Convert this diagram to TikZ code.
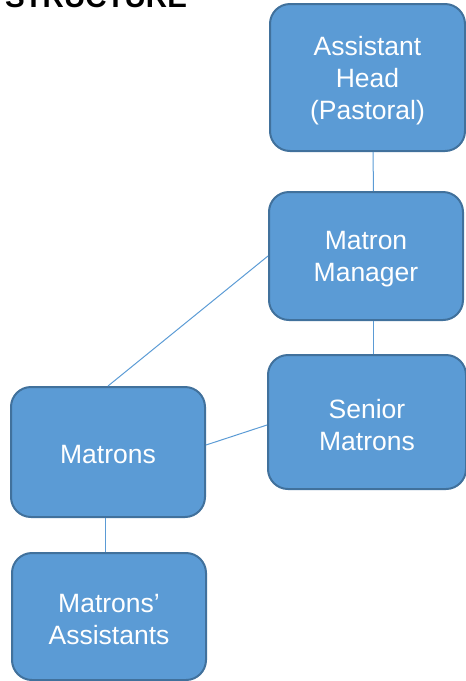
\documentclass[tikz,border=0pt]{standalone}
\usepackage{fontspec}
\setmainfont{Liberation Sans}
\definecolor{boxfill}{HTML}{5B9BD5}
\definecolor{boxline}{HTML}{41719C}
\definecolor{conn}{HTML}{5B9BD5}
\begin{document}
\begin{tikzpicture}[x=1pt,y=-1pt,
  orgbox/.style={draw=boxline, line width=2pt, fill=boxfill, rounded corners=20pt, inner sep=0pt},
  boxtext/.style={text=white, align=center, inner sep=0pt, yshift=-3pt,
    font=\fontsize{26.5}{32}\selectfont},
  conline/.style={draw=conn, line width=1pt}]
\useasboundingbox (0,0) rectangle (466,681);
\clip (0,0) rectangle (466,681);
\node[anchor=base west, font=\fontsize{29.5}{34}\selectfont\bfseries] (title) at (1.5,7) {STRUCTURE};
\node[orgbox, minimum width=195pt, minimum height=147pt] (AH) at (367.5,77.5) {};
\node[orgbox, minimum width=194pt, minimum height=128pt] (MM) at (366,256) {};
\node[orgbox, minimum width=198pt, minimum height=134pt] (SM) at (367,422) {};
\node[orgbox, minimum width=194pt, minimum height=130pt] (MT) at (108,452) {};
\node[orgbox, minimum width=194pt, minimum height=127pt] (MA) at (109,616.5) {};
\node[boxtext] (AHt) at (AH.center) {Assistant\\Head\\(Pastoral)};
\node[boxtext] (MMt) at (MM.center) {Matron\\Manager};
\node[boxtext] (SMt) at (SM.center) {Senior\\Matrons};
\node[boxtext] (MTt) at (MT.center) {Matrons};
\node[boxtext] (MAt) at (MA.center) {Matrons’\\Assistants};
\draw[conline] ([xshift=5.5pt]AH.south) -- ([xshift=7.5pt]MM.north);
\draw[conline] (MM.west) -- (MT.north);
\draw[conline] ([xshift=7pt]MM.south) -- ([xshift=6pt]SM.north);
\draw[conline] ([yshift=7pt]MT.east) -- ([yshift=-3pt]SM.west);
\draw[conline] ([xshift=-3pt]MT.south) -- ([xshift=-4pt]MA.north);
\end{tikzpicture}
\end{document}
